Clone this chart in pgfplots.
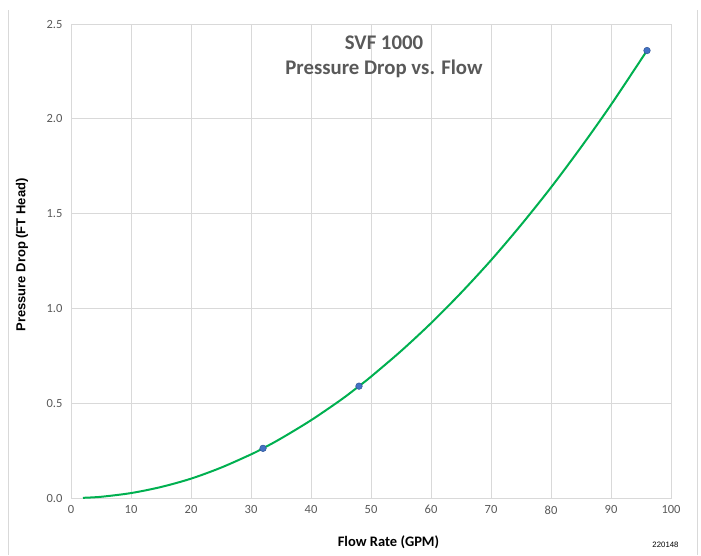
\documentclass[border=0pt]{standalone}
\usepackage{fontspec}
\setmainfont{Carlito}
\newfontfamily\arial{Liberation Sans}
\usepackage{pgfplots}
\pgfplotsset{compat=1.18}
\definecolor{gridgray}{RGB}{217,217,217}
\definecolor{txtgray}{RGB}{89,89,89}
\definecolor{curvegreen}{RGB}{0,176,80}
\definecolor{ptblue}{RGB}{68,114,196}
\definecolor{ptedge}{RGB}{47,85,151}
\begin{document}
\begin{tikzpicture}
\useasboundingbox (-71pt,-57pt) rectangle (630pt,498pt);
\draw[gridgray, line width=0.6pt] (-63pt,-57pt) -- (-63pt,488pt);
\draw[gridgray, line width=0.6pt] (626pt,-57pt) -- (626pt,488pt);
\begin{axis}[
  at={(0pt,0pt)}, anchor=south west,
  scale only axis, width=600pt, height=474pt,
  xmin=0, xmax=100, ymin=0, ymax=2.5,
  xtick={0,10,...,100},
  ytick={0,0.5,1,1.5,2,2.5},
  yticklabel style={/pgf/number format/fixed,/pgf/number format/fixed zerofill,/pgf/number format/precision=1, xshift=-5pt},
  /pgf/number format/assume math mode=true,
  tick label style={font=\fontsize{12.5}{14}\selectfont, text=txtgray},
  major tick length=0pt,
  grid=major,
  major grid style={draw=gridgray, line width=0.8pt},
  axis line style={draw=gridgray, line width=0.8pt},
  xticklabel style={yshift=-4pt},
]
\addplot[curvegreen, line width=2pt, smooth] coordinates {
(2,0.001) (5,0.0064) (10,0.026) (15,0.058) (20,0.102) (25,0.160) (30,0.230)
(32,0.262) (35,0.314) (40,0.410) (45,0.518) (48,0.590) (50,0.640) (55,0.775)
(60,0.922) (65,1.082) (70,1.254) (75,1.440) (80,1.638) (85,1.850) (90,2.074) (96,2.360)
};
\addplot[only marks, mark=*, mark size=3.3pt, mark options={fill=ptblue, draw=ptedge, line width=0.5pt}] coordinates {
(32,0.262) (48,0.590) (96,2.360)
};
\end{axis}
\node[text=txtgray, font=\bfseries\fontsize{20.8}{24}\selectfont] at (313pt,455pt) {SVF 1000};
\node[text=txtgray, font=\bfseries\fontsize{20.8}{24}\selectfont] at (313pt,429pt) {Pressure Drop vs. Flow};
\node[font=\bfseries\fontsize{14.5}{16}\selectfont] at (317.5pt,-44pt) {Flow Rate (GPM)};
\node[rotate=90, font=\arial\bfseries\fontsize{13}{15}\selectfont] at (-49pt,243pt) {Pressure Drop (FT Head)};
\node[font=\arial\fontsize{7.8}{9}\selectfont] at (594.5pt,-47pt) {220148};
\end{tikzpicture}
\end{document}
